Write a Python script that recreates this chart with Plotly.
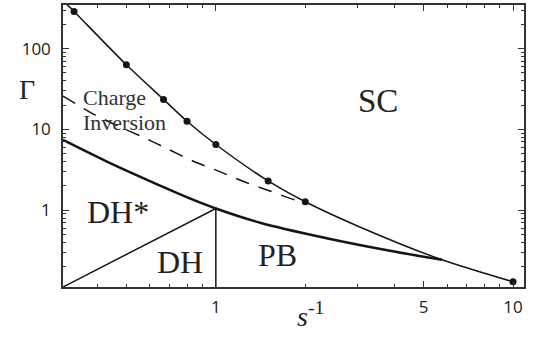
import plotly.graph_objects as go
import math

# ---- data ----
# upper boundary (SC) curve with simulation points
sc_curve_x = [0.31, 1/3, 0.5, 2/3, 0.8, 1.0, 1.5, 2.0, 3.05, 5.77, 10.0]
sc_curve_y = [375, 288, 63, 23.5, 12.6, 6.5, 2.3, 1.27, 0.62, 0.243, 0.13]
sc_pts_x = [1/3, 0.5, 2/3, 0.8, 1.0, 1.5, 2.0, 10.0]
sc_pts_y = [288, 63, 23.5, 12.6, 6.5, 2.3, 1.27, 0.13]

# charge inversion (dashed)
ci_x = [0.306, 0.382, 0.468, 0.577, 0.689, 0.837, 1.016, 1.252, 1.52, 1.845, 2.0]
ci_y = [25.8, 15.9, 11.0, 7.82, 5.71, 4.06, 3.06, 2.23, 1.73, 1.34, 1.27]

# DH* / PB boundary (thick)
pb_x = [0.306, 0.43, 0.685, 0.837, 1.0, 1.41, 2.36, 3.94, 5.77]
pb_y = [7.4, 4.0, 1.85, 1.35, 1.05, 0.70, 0.45, 0.31, 0.243]

# DH region boundary (thin)
X_MIN, X_MAX = 0.306, 10.89
Y_MIN, Y_MAX = 0.112, 346
dh_x = [X_MIN, 1.0, 1.0]
dh_y = [Y_MIN, 1.05, Y_MIN]

x_tickvals = [1, 5, 10]
x_ticktext = ["1", "5", "10"]
y_tickvals = [1, 10, 100]
y_ticktext = ["1", "10", "100"]
x_minor = [0.4, 0.5, 0.6, 0.7, 0.8, 0.9, 2, 3, 4, 6, 7, 8, 9]
y_minor = [0.2, 0.3, 0.4, 0.5, 0.6, 0.7, 0.8, 0.9, 2, 3, 4, 5, 6, 7, 8, 9,
           20, 30, 40, 50, 60, 70, 80, 90, 200, 300]

W, H = 534, 337
L, R, T, B = 63.3, 523.7, 3.3, 286.7


def px(x, y):
    return (x - L) / (R - L), (B - y) / (B - T)


fig = go.Figure()
LC = "#151515"
fig.add_trace(go.Scatter(x=sc_curve_x, y=sc_curve_y, mode="lines",
                         line=dict(color=LC, width=1.5, shape="spline", smoothing=0.8),
                         hoverinfo="skip"))
fig.add_trace(go.Scatter(x=sc_pts_x, y=sc_pts_y, mode="markers",
                         marker=dict(color=LC, size=7), cliponaxis=False))
fig.add_trace(go.Scatter(x=ci_x, y=ci_y, mode="lines",
                         line=dict(color=LC, width=1.5, dash="14px,10px", shape="spline", smoothing=0.8)))
fig.add_trace(go.Scatter(x=pb_x, y=pb_y, mode="lines",
                         line=dict(color=LC, width=2.5, shape="spline", smoothing=1.0)))
fig.add_trace(go.Scatter(x=dh_x, y=dh_y, mode="lines",
                         line=dict(color=LC, width=1.5)))

tickfont = dict(family="Open Sans, Liberation Sans, sans-serif", size=17, color="#222")
axcommon = dict(type="log", showgrid=False, zeroline=False, showline=True,
                linecolor="#333", linewidth=1.5, mirror="allticks",
                ticks="inside", ticklen=6, tickwidth=1, tickcolor="#333",
                tickfont=tickfont)

fig.update_xaxes(range=[math.log10(X_MIN), math.log10(X_MAX)],
                 tickvals=x_tickvals, ticktext=x_ticktext, ticklabelstandoff=4,
                 minor=dict(ticks="inside", ticklen=3, tickvals=x_minor, tickcolor="#333", showgrid=False),
                 **axcommon)
fig.update_yaxes(range=[math.log10(Y_MIN), math.log10(Y_MAX)],
                 tickvals=y_tickvals, ticktext=y_ticktext, ticklabelstandoff=7,
                 minor=dict(ticks="inside", ticklen=3, tickvals=y_minor, tickcolor="#333", showgrid=False),
                 **axcommon)

serif = "Liberation Serif, Times New Roman, serif"
ann = []


def add_text(text, x, y, size, xanchor="center", color="#222", align="center"):
    xp, yp = px(x, y)
    ann.append(dict(text=text, x=xp, y=yp, xref="paper", yref="paper",
                    xanchor=xanchor, yanchor="middle", showarrow=False, align=align,
                    font=dict(family=serif, size=size, color=color)))


add_text("SC", 378, 100, 33)
add_text("DH*", 118, 211, 32)
add_text("DH", 180, 262, 32)
add_text("PB", 278, 255, 32)
add_text("Charge", 81, 96, 22, xanchor="left", color="#333", align="left")
add_text("Inversion", 81, 121, 22, xanchor="left", color="#333", align="left")
add_text("Γ", 27, 88, 28)
add_text("<i>s</i><sup>-1</sup>", 310, 314, 28)

fig.update_layout(width=W, height=H, margin=dict(l=L, r=W - R, t=T, b=H - B),
                  plot_bgcolor="white", paper_bgcolor="white", showlegend=False,
                  annotations=ann)

fig.write_html("out.html", config={"displayModeBar": False},
               post_script="document.body.style.margin='0';document.body.style.padding='0';")
